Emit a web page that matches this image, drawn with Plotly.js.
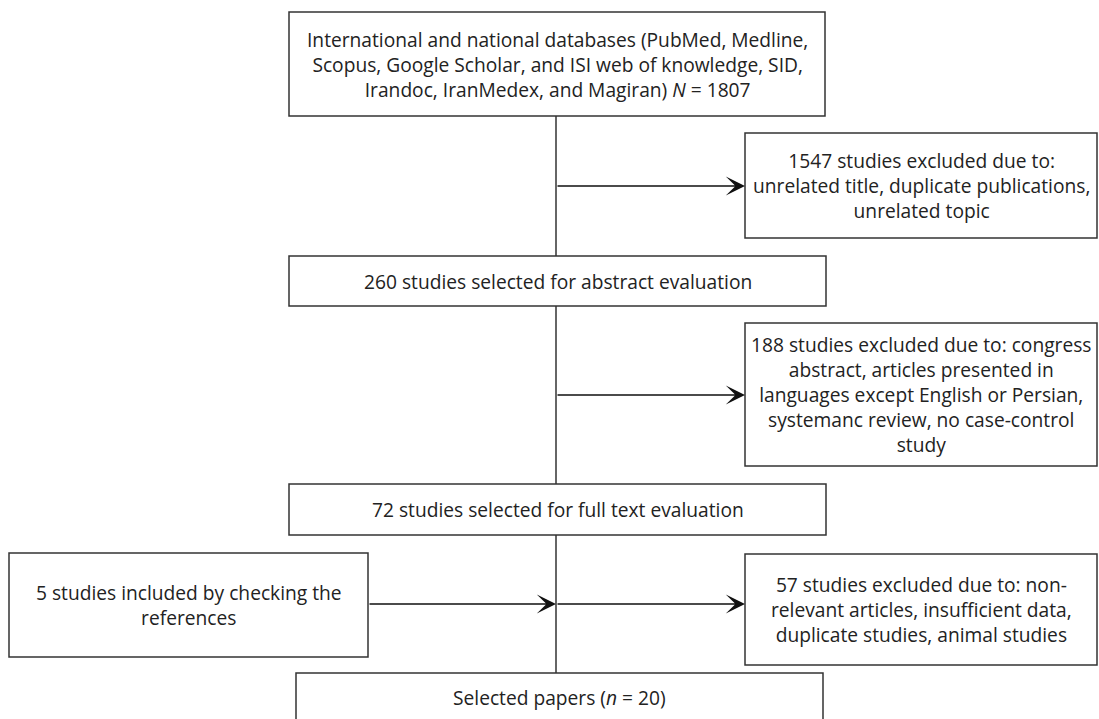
<!DOCTYPE html>
<html>
<head>
<meta charset="utf-8">
<script src="https://cdn.plot.ly/plotly-3.0.1.min.js"></script>
<style>html,body{margin:0;padding:0;background:#fff;}#chart{width:1099px;height:719px;}</style>
</head>
<body>
<div id="chart"></div>
<script>
// ---- content (flow steps) ----
const stepLabels = [
  "International and national databases (PubMed, Medline,<br>Scopus, Google Scholar, and ISI web of knowledge, SID,<br>Irandoc, IranMedex, and Magiran) <i>N</i> = 1807",
  "1547 studies excluded due to:<br>unrelated title, duplicate publications,<br>unrelated topic",
  "260 studies selected for abstract evaluation",
  "188 studies excluded due to: congress<br>abstract, articles presented in<br>languages except English or Persian,<br>systemanc review, no case-control<br>study",
  "72 studies selected for full text evaluation",
  "5 studies included by checking the<br>references",
  "57 studies excluded due to: non-<br>relevant articles, insufficient data,<br>duplicate studies, animal studies",
  "Selected papers (<i>n</i> = 20)"
];
const stepCounts = [1807, 1547, 260, 188, 72, 5, 57, 20];

// ---- geometry (pixel layout of the diagram) ----
const boxes = [
  [289, 825, 12, 116],
  [745, 1097, 133, 238],
  [289, 826, 256, 306],
  [745, 1097, 323, 466],
  [289, 826, 484, 535],
  [9, 368, 553, 657],
  [745, 1097, 554, 665],
  [296, 823, 673, 730]
];
const spineX = 556;
const arrows = [ // [x0,y0,x1,y1]
  [spineX, 186, 745, 186],
  [spineX, 395, 745, 395],
  [368, 604, spineX, 604],
  [spineX, 604, 745, 604]
];
const lineCol = '#333333';

const shapes = [];
const annotations = [];
boxes.forEach((b, i) => {
  shapes.push({type:'rect', xref:'x', yref:'y', x0:b[0], x1:b[1], y0:b[2], y1:b[3],
    line:{color:lineCol, width:1.5}, fillcolor:'rgba(0,0,0,0)', layer:'above'});
  const ym = (i === 7) ? 697 : (b[2] + b[3]) / 2;
  annotations.push({x:(b[0]+b[1])/2, y:ym, xref:'x', yref:'y', text:stepLabels[i],
    showarrow:false, align:'center', xanchor:'center', yanchor:'middle',
    font:{family:'"Open Sans", sans-serif', size:19.2, color:'#222'}});
});
// spine segments
shapes.push({type:'line', xref:'x', yref:'y', x0:spineX, x1:spineX, y0:116, y1:256, line:{color:lineCol, width:1.5}});
shapes.push({type:'line', xref:'x', yref:'y', x0:spineX, x1:spineX, y0:306, y1:484, line:{color:lineCol, width:1.5}});
shapes.push({type:'line', xref:'x', yref:'y', x0:spineX, x1:spineX, y0:535, y1:673, line:{color:lineCol, width:1.5}});
arrows.forEach(a => {
  annotations.push({x:a[2], y:a[3], ax:a[0], ay:a[1], xref:'x', yref:'y', axref:'x', ayref:'y',
    showarrow:true, arrowhead:3, arrowsize:2, arrowwidth:1.6, arrowcolor:'#111', text:''});
});

const layout = {
  width:1099, height:719,
  margin:{l:0, r:0, t:0, b:0},
  paper_bgcolor:'#fff', plot_bgcolor:'#fff',
  xaxis:{range:[0,1099], visible:false, fixedrange:true},
  yaxis:{range:[719,0], visible:false, fixedrange:true},
  shapes:shapes, annotations:annotations, showlegend:false
};
Plotly.newPlot('chart', [{x:[0], y:[0], mode:'markers', marker:{opacity:0}, hoverinfo:'skip', customdata:stepCounts}], layout, {staticPlot:true});
</script>
</body>
</html>
